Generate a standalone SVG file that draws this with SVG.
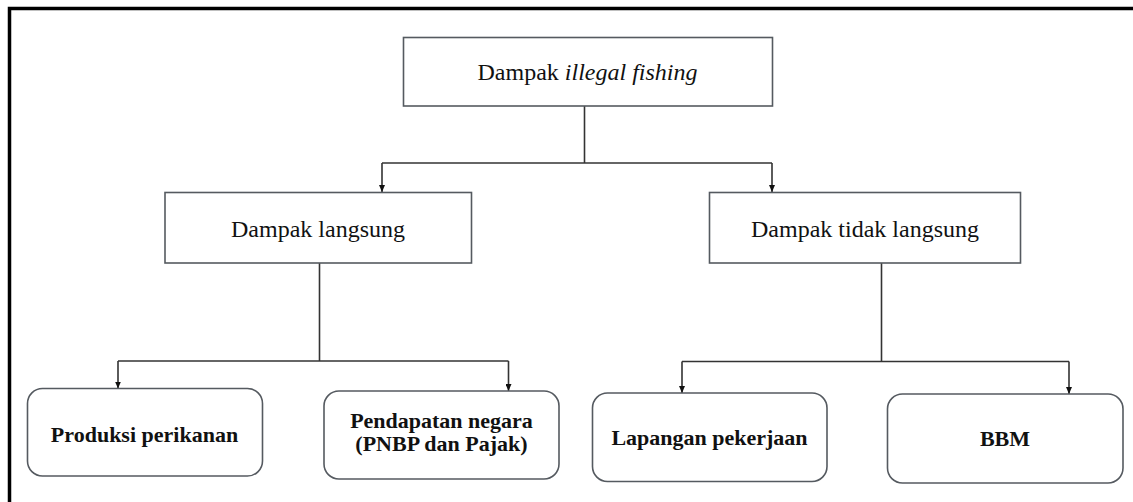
<svg xmlns="http://www.w3.org/2000/svg" width="1133" height="502" viewBox="0 0 1133 502">
  <style>
    .box { fill: #ffffff; stroke: #555a60; stroke-width: 1.6; }
    .t { font-family: "Liberation Serif", "Times New Roman", serif; font-size: 24px; fill: #111; text-anchor: middle; }
    .b { font-family: "Liberation Serif", "Times New Roman", serif; font-size: 22px; font-weight: bold; fill: #111; text-anchor: middle; }
    .c { fill: none; stroke: #333; stroke-width: 1.6; }
  </style>
  <defs>
    <marker id="arr" viewBox="0 0 7 6" refX="7" refY="3" markerWidth="7" markerHeight="6" markerUnits="userSpaceOnUse" orient="auto">
      <path d="M0,0 L7,3 L0,6 Z" fill="#111"/>
    </marker>
  </defs>
  <rect x="0" y="0" width="1133" height="502" fill="#ffffff"/>
  <path d="M9.5,502 V8.5 H1133" fill="none" stroke="#000" stroke-width="3.5"/>

  <g id="connectors">
    <path class="c" d="M584.5,106 V163"/>
    <path class="c" d="M382,163 H772"/>
    <path class="c" d="M382,163 V192" marker-end="url(#arr)"/>
    <path class="c" d="M772,163 V192" marker-end="url(#arr)"/>
    <path class="c" d="M319.5,263 V361"/>
    <path class="c" d="M118,361 H508.5"/>
    <path class="c" d="M118,361 V388.5" marker-end="url(#arr)"/>
    <path class="c" d="M508.5,361 V391" marker-end="url(#arr)"/>
    <path class="c" d="M881.5,263 V361.5"/>
    <path class="c" d="M682,361.5 H1069"/>
    <path class="c" d="M682,361.5 V393" marker-end="url(#arr)"/>
    <path class="c" d="M1069,361.5 V394" marker-end="url(#arr)"/>
  </g>

  <g id="node-root">
    <rect class="box" x="403.5" y="37.5" width="369" height="68.5"/>
    <text class="t" x="587.5" y="80">Dampak <tspan font-style="italic">illegal fishing</tspan></text>
  </g>
  <g id="node-langsung">
    <rect class="box" x="165" y="192.5" width="306.5" height="70.5"/>
    <text class="t" x="318" y="237">Dampak langsung</text>
  </g>
  <g id="node-tidak-langsung">
    <rect class="box" x="709.5" y="192.5" width="311" height="70.5"/>
    <text class="t" x="865" y="237">Dampak tidak langsung</text>
  </g>
  <g id="node-produksi">
    <rect class="box" x="27.5" y="388.5" width="235" height="87.5" rx="15" ry="15"/>
    <text class="b" x="144.5" y="442">Produksi perikanan</text>
  </g>
  <g id="node-pendapatan">
    <rect class="box" x="324" y="391" width="235" height="88" rx="15" ry="15"/>
    <text class="b" x="441.5" y="428">Pendapatan negara</text>
    <text class="b" x="441.5" y="451">(PNBP dan Pajak)</text>
  </g>
  <g id="node-lapangan">
    <rect class="box" x="592.5" y="393" width="234.5" height="88.5" rx="15" ry="15"/>
    <text class="b" x="709.5" y="445">Lapangan pekerjaan</text>
  </g>
  <g id="node-bbm">
    <rect class="box" x="887.5" y="394" width="235.5" height="89" rx="15" ry="15"/>
    <text class="b" x="1005" y="446">BBM</text>
  </g>
</svg>
